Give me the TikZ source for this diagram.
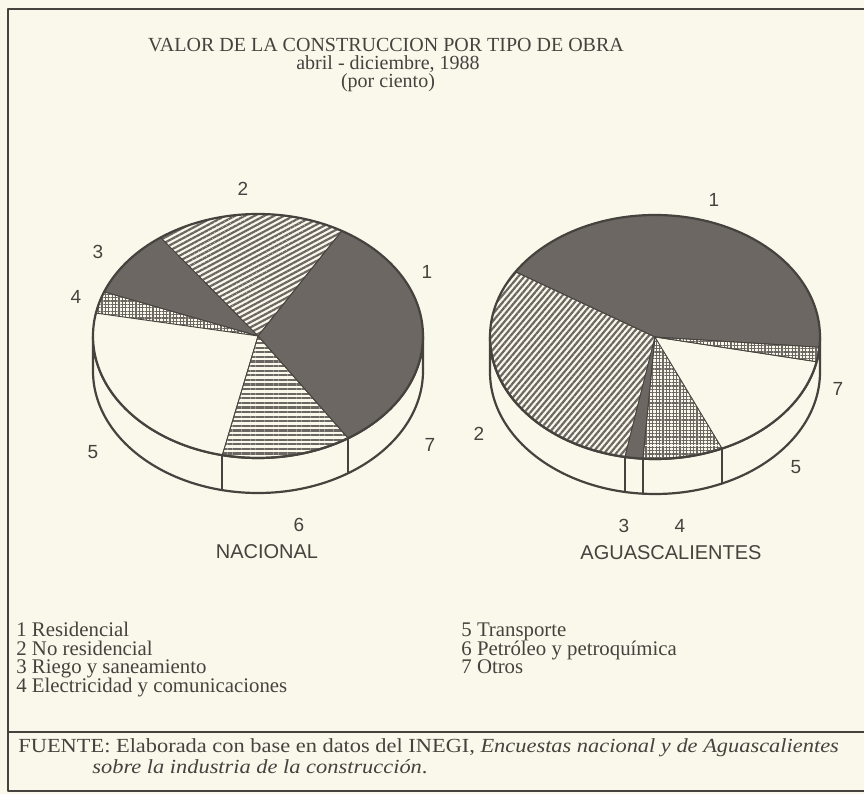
\documentclass[tikz,border=0pt]{standalone}
\usepackage{fontspec}
\setmainfont{Liberation Serif}
\setsansfont{Liberation Sans}
\newfontfamily\srcfont[FakeStretch=1.12]{Liberation Serif}
\usepackage{xcolor}
\usetikzlibrary{positioning, patterns.meta}

\definecolor{paper}{RGB}{250,247,235}
\definecolor{ink}{RGB}{70,66,62}
\definecolor{slab}{RGB}{108,103,98}

\begin{document}
\begin{tikzpicture}[x=0.5pt,y=0.5pt,line join=round,
                    num/.style={font=\sffamily\fontsize{9.5}{11}\selectfont,text=ink,inner sep=0pt},
                    region/.style={font=\sffamily\fontsize{10}{12}\selectfont,text=ink,inner sep=0pt},
                    heading/.style={font=\fontsize{10}{12}\selectfont,text=ink,inner sep=0pt},
                    source/.style={font=\srcfont\fontsize{10}{12}\selectfont,text=ink,inner sep=0pt,anchor=west},
                    legend/.style={font=\fontsize{10.4}{12}\selectfont,text=ink,inner sep=0pt,
                                   text height=7pt,text depth=2pt,anchor=north west},
                    rim/.style={draw=ink,line width=1.1pt,fill=paper},
                    wedge/.style={draw=ink,line width=0.4pt},
                    dark/.style={wedge,fill=slab},
                    blank/.style={wedge,fill=paper},
                    lined/.style={wedge,pattern color=slab,
                                  pattern={Lines[angle=#1,distance=2.3pt,line width=1.1pt]}},
                    grid/.style={wedge,pattern color=slab,
                                 pattern={Hatch[angle=0,distance=1.7pt,line width=0.55pt]}}]

  \useasboundingbox (0,0) rectangle (864,794);
  \fill[paper] (0,0) rectangle (864,794);

  % frame
  \draw[ink,line width=1.3pt] (864,785) -- (8,785) -- (8,3) -- (864,3);
  \draw[ink,line width=1.3pt] (8,62) -- (864,62);

  \node[heading] (title)  at (386,749) {VALOR DE LA CONSTRUCCION POR TIPO DE OBRA};
  \node[heading] (period) at (388,730) {abril - diciembre, 1988};
  \node[heading] (unit)   at (388,711) {(por ciento)};

  % Nacional
  \begin{scope}[shift={(258,458)},x radius=165,y radius=122]
    \path[rim] (180:165 and 122) -- ++(0,-35) arc[start angle=180,end angle=360]
      -- ++(0,35) arc[start angle=0,end angle=-180] -- cycle;
    \draw[ink,line width=1.1pt] (257.5:165 and 122) -- ++(0,-35);
    \draw[ink,line width=1.1pt] (303.1:165 and 122) -- ++(0,-35);

    \path[dark]      (0,0) -- (303.1:165 and 122) arc[start angle=303.1,end angle=419.5] -- cycle;
    \path[lined=28]  (0,0) -- (59.5:165 and 122)  arc[start angle=59.5,end angle=126.2] -- cycle;
    \path[dark]      (0,0) -- (126.2:165 and 122) arc[start angle=126.2,end angle=158.8] -- cycle;
    \path[grid]      (0,0) -- (158.8:165 and 122) arc[start angle=158.8,end angle=169.2] -- cycle;
    \path[blank]     (0,0) -- (169.2:165 and 122) arc[start angle=169.2,end angle=257.5] -- cycle;
    \path[lined=0]   (0,0) -- (257.5:165 and 122) arc[start angle=257.5,end angle=303.1] -- cycle;

    \draw[ink,line width=1.1pt] (0,0) ellipse[x radius=165,y radius=122];
  \end{scope}

  \node[num] (n2) at (243,605) {2};
  \node[num] (n3) at (98,542)  {3};
  \node[num] (n1) at (427,522) {1};
  \node[num] (n4) at (76,497)  {4};
  \node[num] (n5) at (93,342)  {5};
  \node[num] (n7) at (430,349) {7};
  \node[num] (n6) at (299,269) {6};
  \node[region] (nacional) at (267,242) {NACIONAL};

  % Aguascalientes
  \begin{scope}[shift={(655,457)},x radius=165,y radius=122]
    \path[rim] (180:165 and 122) -- ++(0,-35) arc[start angle=180,end angle=360]
      -- ++(0,35) arc[start angle=0,end angle=-180] -- cycle;
    \draw[ink,line width=1.1pt] (259.5:165 and 122) -- ++(0,-35);
    \draw[ink,line width=1.1pt] (265.8:165 and 122) -- ++(0,-35);
    \draw[ink,line width=1.1pt] (294:165 and 122)   -- ++(0,-35);

    \path[dark]      (0,0) -- (355.2:165 and 122) arc[start angle=355.2,end angle=507.7] -- cycle;
    \path[lined=50]  (0,0) -- (147.7:165 and 122) arc[start angle=147.7,end angle=259.5] -- cycle;
    \path[dark]      (0,0) -- (259.5:165 and 122) arc[start angle=259.5,end angle=265.8] -- cycle;
    \path[grid]      (0,0) -- (265.8:165 and 122) arc[start angle=265.8,end angle=294] -- cycle;
    \path[blank]     (0,0) -- (294:165 and 122)   arc[start angle=294,end angle=348.3] -- cycle;
    \path[grid]      (0,0) -- (348.3:165 and 122) arc[start angle=348.3,end angle=355.2] -- cycle;

    \draw[ink,line width=1.1pt] (0,0) ellipse[x radius=165,y radius=122];
  \end{scope}

  \node[num] (a1) at (714,594) {1};
  \node[num] (a7) at (838,405) {7};
  \node[num] (a2) at (479,360) {2};
  \node[num] (a5) at (796,327) {5};
  \node[num] (a3) at (624,268) {3};
  \node[num] (a4) at (680,268) {4};
  \node[region] (aguas) at (671,241) {AGUASCALIENTES};

  % legend
  \node[legend] (l1) at (16,172) {1 Residencial};
  \node[legend] (l2) [below=0pt of l1.south west,anchor=north west] {2 No residencial};
  \node[legend] (l3) [below=0pt of l2.south west,anchor=north west] {3 Riego y saneamiento};
  \node[legend] (l4) [below=0pt of l3.south west,anchor=north west] {4 Electricidad y comunicaciones};
  \node[legend] (l5) at (461,172) {5 Transporte};
  \node[legend] (l6) [below=0pt of l5.south west,anchor=north west] {6 Petróleo y petroquímica};
  \node[legend] (l7) [below=0pt of l6.south west,anchor=north west] {7 Otros};

  \node[source] (src1) at (18,46)
    {FUENTE: Elaborada con base en datos del INEGI, \textit{Encuestas nacional y de Aguascalientes}};
  \node[source] (src2) at (92,27)
    {\textit{sobre la industria de la construcción}.};

\end{tikzpicture}
\end{document}
